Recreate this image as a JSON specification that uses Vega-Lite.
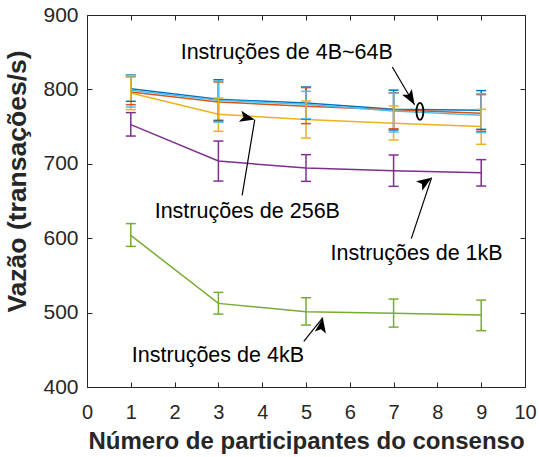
{
  "$schema": "https://vega.github.io/schema/vega-lite/v6.json",
  "width": 438,
  "height": 372,
  "autosize": "none",
  "padding": {"left": 87, "top": 15, "right": 14, "bottom": 70},
  "background": "white",
  "config": {
    "font": "Liberation Sans",
    "view": {"stroke": "#262626", "strokeWidth": 1},
    "axis": {
      "grid": false,
      "domain": false,
      "tickColor": "#262626",
      "tickSize": -5,
      "tickWidth": 1,
      "labelColor": "#262626",
      "titleColor": "#262626",
      "labelFont": "Liberation Sans",
      "titleFont": "Liberation Sans",
      "titleFontWeight": "bold",
      "labelFlush": false,
      "labelOverlap": false
    }
  },
  "datasets": {
    "series": [
      {"series": "4B", "x": 1, "y": 801.0, "lo": 784.0, "hi": 819.3},
      {"series": "4B", "x": 3, "y": 786.7, "lo": 758.4, "hi": 813.0},
      {"series": "4B", "x": 5, "y": 781.7, "lo": 760.0, "hi": 803.2},
      {"series": "4B", "x": 7, "y": 773.2, "lo": 745.5, "hi": 799.0},
      {"series": "4B", "x": 9, "y": 771.9, "lo": 746.3, "hi": 798.4},
      {"series": "16B", "x": 1, "y": 796.5, "lo": 779.5, "hi": 817.6},
      {"series": "16B", "x": 3, "y": 783.0, "lo": 757.0, "hi": 810.0},
      {"series": "16B", "x": 5, "y": 777.3, "lo": 754.0, "hi": 802.4},
      {"series": "16B", "x": 7, "y": 772.8, "lo": 747.0, "hi": 795.5},
      {"series": "16B", "x": 9, "y": 767.8, "lo": 743.6, "hi": 793.0},
      {"series": "64B", "x": 1, "y": 798.8, "lo": 776.3, "hi": 816.7},
      {"series": "64B", "x": 3, "y": 785.3, "lo": 756.0, "hi": 811.3},
      {"series": "64B", "x": 5, "y": 780.0, "lo": 760.7, "hi": 797.4},
      {"series": "64B", "x": 7, "y": 771.0, "lo": 742.7, "hi": 795.0},
      {"series": "64B", "x": 9, "y": 765.2, "lo": 741.9, "hi": 794.3},
      {"series": "256B", "x": 1, "y": 795.2, "lo": 772.8, "hi": 818.5},
      {"series": "256B", "x": 3, "y": 766.5, "lo": 743.6, "hi": 788.4},
      {"series": "256B", "x": 5, "y": 759.4, "lo": 734.6, "hi": 784.4},
      {"series": "256B", "x": 7, "y": 754.4, "lo": 732.0, "hi": 777.7},
      {"series": "256B", "x": 9, "y": 750.0, "lo": 726.2, "hi": 773.2},
      {"series": "1kB", "x": 1, "y": 752.6, "lo": 737.3, "hi": 768.8},
      {"series": "1kB", "x": 3, "y": 703.7, "lo": 676.8, "hi": 730.6},
      {"series": "1kB", "x": 5, "y": 694.3, "lo": 676.4, "hi": 712.3},
      {"series": "1kB", "x": 7, "y": 690.8, "lo": 669.7, "hi": 711.8},
      {"series": "1kB", "x": 9, "y": 688.1, "lo": 670.1, "hi": 705.6},
      {"series": "4kB", "x": 1, "y": 603.8, "lo": 589.0, "hi": 619.6},
      {"series": "4kB", "x": 3, "y": 512.4, "lo": 498.0, "hi": 527.2},
      {"series": "4kB", "x": 5, "y": 501.2, "lo": 483.2, "hi": 520.0},
      {"series": "4kB", "x": 7, "y": 499.0, "lo": 480.5, "hi": 518.2},
      {"series": "4kB", "x": 9, "y": 496.7, "lo": 475.7, "hi": 516.8}
    ],
    "notes": [
      {"label": "4B~64B", "text": "Instruções de 4B~64B", "x": 4.561, "y": 848.5},
      {"label": "256B", "text": "Instruções de 256B", "x": 3.66, "y": 634.7},
      {"label": "1kB", "text": "Instruções de 1kB", "x": 7.525, "y": 578.3},
      {"label": "4kB", "text": "Instruções de 4kB", "x": 2.989, "y": 441.1}
    ],
    "arrows": [
      {"label": "4B~64B", "x": 6.970, "y": 830.1, "x2": 7.479, "y2": 779.3},
      {"label": "256B", "x": 3.542, "y": 657.6, "x2": 3.830, "y2": 759.4},
      {"label": "1kB", "x": 7.404, "y": 599.4, "x2": 7.868, "y2": 681.4},
      {"label": "4kB", "x": 4.950, "y": 461.3, "x2": 5.384, "y2": 493.2}
    ],
    "ellipse": [
      {"label": "4B~64B", "x": 7.601, "y": 770.5}
    ]
  },
  "layer": [
    {
      "data": {"name": "series"},
      "mark": {"type": "line", "strokeWidth": 1.5},
      "encoding": {
        "x": {
          "field": "x", "type": "quantitative",
          "scale": {"domain": [0, 10], "nice": false, "zero": false},
          "axis": {
            "orient": "bottom",
            "values": [0, 1, 2, 3, 4, 5, 6, 7, 8, 9, 10],
            "labelFontSize": 20,
            "labelPadding": 20,
            "title": "Número de participantes do consenso",
            "titleFontSize": 24,
            "titlePadding": 7
          }
        },
        "y": {
          "field": "y", "type": "quantitative",
          "scale": {"domain": [400, 900], "nice": false, "zero": false},
          "axis": {
            "orient": "left",
            "values": [400, 500, 600, 700, 800, 900],
            "labelFontSize": 21,
            "labelPadding": 14,
            "title": "Vazão (transações/s)",
            "titleFontSize": 26.5,
            "titlePadding": 11,
            "titleY": 166
          }
        },
        "color": {
          "field": "series", "type": "nominal",
          "scale": {
            "domain": ["4B", "16B", "64B", "256B", "1kB", "4kB"],
            "range": ["#0072BD", "#D95319", "#4DBEEE", "#EDB120", "#7E2F8E", "#77AC30"]
          },
          "legend": null
        }
      }
    },
    {
      "data": {"name": "series"},
      "mark": {"type": "rule", "strokeWidth": 1.5},
      "encoding": {
        "x": {"field": "x", "type": "quantitative", "axis": null},
        "y": {"field": "lo", "type": "quantitative", "axis": null},
        "y2": {"field": "hi"},
        "color": {"field": "series", "type": "nominal", "legend": null}
      }
    },
    {
      "data": {"name": "series"},
      "mark": {"type": "tick", "orient": "horizontal", "size": 10, "thickness": 1.5, "opacity": 1},
      "encoding": {
        "x": {"field": "x", "type": "quantitative", "axis": null},
        "y": {"field": "lo", "type": "quantitative", "axis": null},
        "color": {"field": "series", "type": "nominal", "legend": null}
      }
    },
    {
      "data": {"name": "series"},
      "mark": {"type": "tick", "orient": "horizontal", "size": 10, "thickness": 1.5, "opacity": 1},
      "encoding": {
        "x": {"field": "x", "type": "quantitative", "axis": null},
        "y": {"field": "hi", "type": "quantitative", "axis": null},
        "color": {"field": "series", "type": "nominal", "legend": null}
      }
    },
    {
      "data": {"name": "series"},
      "mark": {"type": "point", "opacity": 0},
      "encoding": {
        "x": {
          "field": "x", "type": "quantitative",
          "axis": {"orient": "top", "values": [0, 1, 2, 3, 4, 5, 6, 7, 8, 9, 10], "labels": false, "title": null}
        },
        "y": {
          "field": "y", "type": "quantitative",
          "axis": {"orient": "right", "values": [400, 500, 600, 700, 800, 900], "labels": false, "title": null}
        }
      }
    },
    {
      "data": {"name": "arrows"},
      "mark": {"type": "rule", "color": "black", "strokeWidth": 1.2},
      "encoding": {
        "x": {"field": "x", "type": "quantitative", "axis": null},
        "y": {"field": "y", "type": "quantitative", "axis": null},
        "x2": {"field": "x2"},
        "y2": {"field": "y2"}
      }
    },
    {
      "data": {"name": "arrows"},
      "mark": {
        "type": "point",
        "shape": "M0,0 L-0.75,2 L0,1.55 L0.75,2 Z",
        "size": 225,
        "filled": true,
        "color": "black",
        "opacity": 1,
        "strokeWidth": 0
      },
      "encoding": {
        "x": {"field": "x2", "type": "quantitative", "axis": null},
        "y": {"field": "y2", "type": "quantitative", "axis": null},
        "angle": {
          "field": "label", "type": "nominal",
          "scale": {"domain": ["4B~64B", "256B", "1kB", "4kB"], "range": [149.5, 9.45, 18.4, 38.7]},
          "legend": null
        }
      }
    },
    {
      "data": {"name": "ellipse"},
      "mark": {
        "type": "point",
        "shape": "M0,-1 A0.41,1 0 1,1 0,1 A0.41,1 0 1,1 0,-1 Z",
        "size": 289,
        "filled": false,
        "stroke": "black",
        "strokeWidth": 1.8,
        "opacity": 1
      },
      "encoding": {
        "x": {"field": "x", "type": "quantitative", "axis": null},
        "y": {"field": "y", "type": "quantitative", "axis": null}
      }
    },
    {
      "data": {"name": "notes"},
      "mark": {"type": "text", "fontSize": 21.5, "font": "Liberation Sans", "color": "black", "align": "center", "baseline": "middle"},
      "encoding": {
        "x": {"field": "x", "type": "quantitative", "axis": null},
        "y": {"field": "y", "type": "quantitative", "axis": null},
        "text": {"field": "text"}
      }
    }
  ],
  "resolve": {"axis": {"x": "independent", "y": "independent"}}
}
